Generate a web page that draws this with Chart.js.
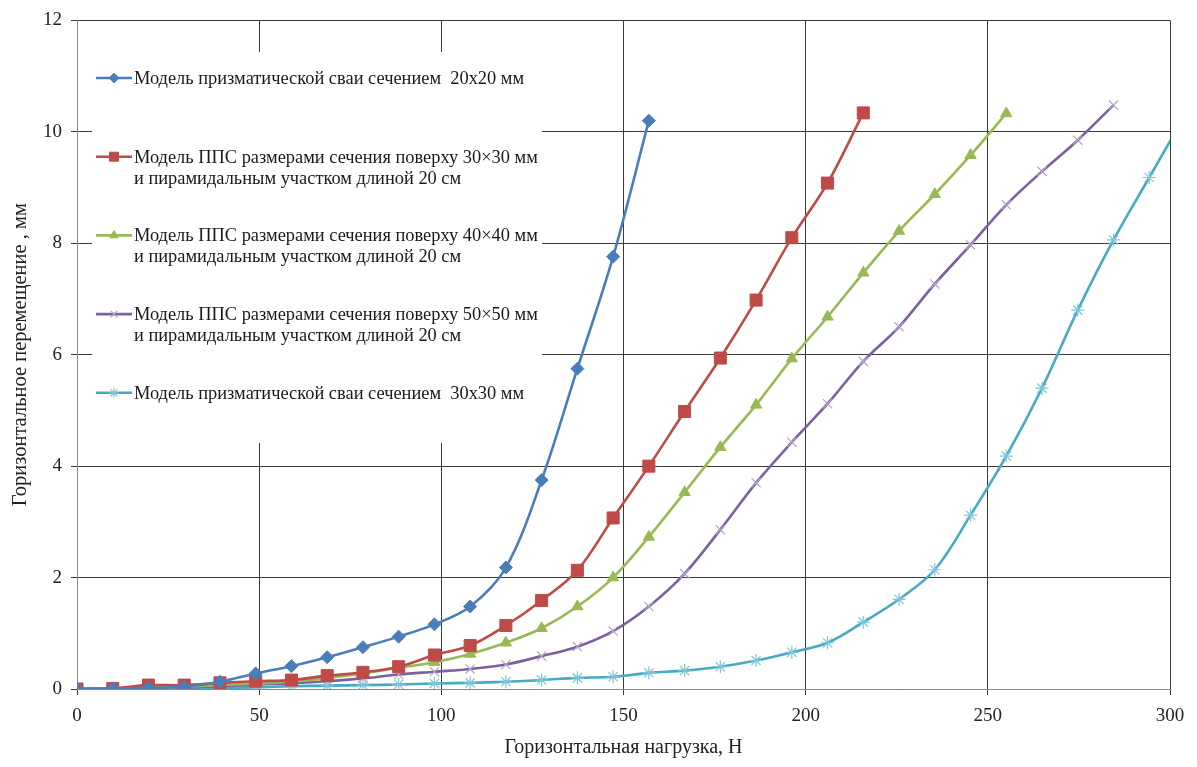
<!DOCTYPE html>
<html>
<head>
<meta charset="utf-8">
<title>Горизонтальное перемещение</title>
<script src="https://cdn.jsdelivr.net/npm/chart.js@4/dist/chart.umd.min.js"></script>
<style>
  html, body { margin: 0; padding: 0; background: #fff; }
  #wrap { width: 1197px; height: 767px; position: relative; }
</style>
</head>
<body>
<div id="wrap"><canvas id="myChart"></canvas></div>
<script>
// нагрузка, Н (шаг 1 кг = 9,81 Н)
const loads = [0, 9.81, 19.62, 29.43, 39.24, 49.05, 58.86, 68.67, 78.48, 88.29, 98.1,
    107.91, 117.72, 127.53, 137.34, 147.15, 156.96, 166.77, 176.58, 186.39, 196.2,
    206.01, 215.82, 225.63, 235.44, 245.25, 255.06, 264.87, 274.68, 284.49, 294.3, 304.11];

// горизонтальное перемещение, мм
const pile20 = [0, 0.01, 0.02, 0.04, 0.13, 0.28, 0.41, 0.57, 0.75, 0.94, 1.16, 1.48, 2.18,
    3.75, 5.75, 7.76, 10.2];
const pps30 = [0, 0.01, 0.07, 0.07, 0.11, 0.14, 0.16, 0.24, 0.3, 0.4, 0.61, 0.78, 1.14,
    1.59, 2.13, 3.07, 4.0, 4.98, 5.94, 6.98, 8.1, 9.08, 10.34];
const pps40 = [0, 0.01, 0.02, 0.04, 0.07, 0.1, 0.13, 0.2, 0.28, 0.38, 0.48, 0.63, 0.83,
    1.09, 1.48, 2.0, 2.73, 3.53, 4.34, 5.1, 5.93, 6.68, 7.47, 8.22, 8.88, 9.58, 10.33];
const pps50 = [0, 0.01, 0.02, 0.03, 0.05, 0.08, 0.1, 0.14, 0.19, 0.26, 0.31, 0.36, 0.44,
    0.59, 0.76, 1.04, 1.48, 2.07, 2.86, 3.7, 4.43, 5.12, 5.88, 6.5, 7.27, 7.97, 8.69,
    9.29, 9.85, 10.48];
const pile30 = [0, 0, 0, 0.01, 0.02, 0.03, 0.05, 0.06, 0.07, 0.08, 0.1, 0.11, 0.13, 0.16,
    0.2, 0.22, 0.29, 0.33, 0.4, 0.51, 0.66, 0.83, 1.2, 1.61, 2.14, 3.12, 4.18, 5.4, 6.8,
    8.06, 9.18, 10.3];

const xTicks = [0, 50, 100, 150, 200, 250, 300];
const yTicks = [0, 2, 4, 6, 8, 10, 12];

const legendLines = [
    ['Модель призматической сваи сечением  20х20 мм'],
    ['Модель ППС размерами сечения поверху 30×30 мм', 'и пирамидальным участком длиной 20 см'],
    ['Модель ППС размерами сечения поверху 40×40 мм', 'и пирамидальным участком длиной 20 см'],
    ['Модель ППС размерами сечения поверху 50×50 мм', 'и пирамидальным участком длиной 20 см'],
    ['Модель призматической сваи сечением  30х30 мм']
];

const serif = '"Liberation Serif", "Times New Roman", serif';

function toPoints(values) {
    return values.map((v, i) => ({ x: loads[i], y: v }));
}

function series(idx, values, color, style, radius, markColor, markWidth) {
    return {
        label: legendLines[idx].join(' '),
        data: toPoints(values),
        borderColor: color,
        backgroundColor: markColor,
        borderWidth: 2.6,
        tension: 0.35,
        pointStyle: style,
        pointRadius: radius,
        pointBackgroundColor: markColor,
        pointBorderColor: markColor,
        pointBorderWidth: markWidth
    };
}

// легенда внутри области графика, на белом фоне
const insideLegend = {
    id: 'insideLegend',
    beforeDatasetsDraw(chart) {
        const ctx = chart.ctx;
        ctx.save();
        ctx.fillStyle = '#ffffff';
        ctx.fillRect(92, 52, 450, 391);
        ctx.font = '18.4px ' + serif;
        ctx.textBaseline = 'middle';
        chart.data.datasets.forEach((ds, i) => {
            const y = 78 + i * 78.7;
            ctx.strokeStyle = ds.borderColor;
            ctx.lineWidth = 2.6;
            ctx.beginPath();
            ctx.moveTo(96, y);
            ctx.lineTo(132, y);
            ctx.stroke();
            ctx.fillStyle = ds.pointBackgroundColor;
            ctx.strokeStyle = ds.pointBorderColor;
            ctx.lineWidth = ds.pointBorderWidth;
            Chart.helpers.drawPoint(ctx, {
                pointStyle: ds.pointStyle,
                radius: ds.pointRadius * 0.75,
                rotation: 0,
                borderWidth: ds.pointBorderWidth
            }, 114, y);
            ctx.fillStyle = '#1a1a1a';
            legendLines[i].forEach((line, j) => {
                ctx.fillText(line, 134, y + 1 + j * 21);
            });
        });
        ctx.restore();
    }
};

const ctx = document.getElementById('myChart').getContext('2d');
const myChart = new Chart(ctx, {
    type: 'line',
    data: {
        datasets: [
            series(0, pile20, '#4a7ebb', 'rectRot', 6.5, '#4a7ebb', 1),
            series(1, pps30, '#be4b48', 'rect', 8.5, '#be4b48', 1),
            series(2, pps40, '#98b954', 'triangle', 6.5, '#98b954', 1),
            series(3, pps50, '#7d60a0', 'crossRot', 6.5, '#b4a5c8', 1.2),
            series(4, pile30, '#46aac5', 'star', 6.5, '#7ec6da', 1.2)
        ]
    },
    options: {
        responsive: true,
        maintainAspectRatio: false,
        animation: false,
        devicePixelRatio: 1,
        layout: { padding: { top: 17, right: 27, left: 0, bottom: 0 } },
        plugins: {
            legend: { display: false },
            tooltip: { enabled: false }
        },
        scales: {
            x: {
                type: 'linear',
                min: 0,
                max: 300,
                afterFit: scale => { scale.height = 78; },
                afterBuildTicks: scale => { scale.ticks = xTicks.map(v => ({ value: v })); },
                ticks: { font: { family: serif, size: 19 }, color: '#222', padding: 10 },
                grid: { color: '#3a3a3a', lineWidth: 1, tickLength: 6 },
                border: { color: '#8a8a8a', width: 1 },
                title: {
                    display: true,
                    text: 'Горизонтальная нагрузка, Н',
                    font: { family: serif, size: 20 },
                    color: '#222',
                    padding: { top: 0, bottom: 7 }
                }
            },
            y: {
                min: 0,
                max: 12,
                afterFit: scale => { scale.width = 77; },
                afterBuildTicks: scale => { scale.ticks = yTicks.map(v => ({ value: v })); },
                ticks: { font: { family: serif, size: 19 }, color: '#222', padding: 9 },
                grid: { color: '#3a3a3a', lineWidth: 1, tickLength: 6 },
                border: { color: '#8a8a8a', width: 1 },
                title: {
                    display: true,
                    text: 'Горизонтальное перемещение , мм',
                    font: { family: serif, size: 20.5 },
                    color: '#222',
                    padding: { top: 8, bottom: 0 }
                }
            }
        }
    },
    plugins: [insideLegend]
});
</script>
</body>
</html>
